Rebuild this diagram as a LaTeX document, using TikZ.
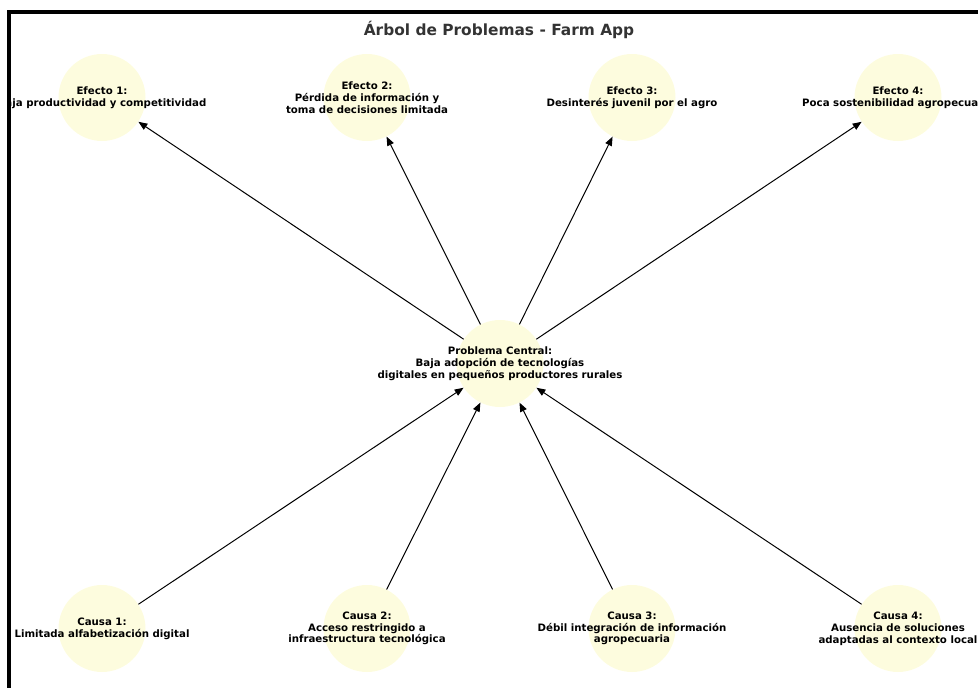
\documentclass[tikz,border=0pt]{standalone}
\usepackage{fontspec}
\setmainfont{DejaVu Sans}
\usetikzlibrary{arrows.meta}
\definecolor{amarillo}{RGB}{253,252,222}
\definecolor{gristitulo}{RGB}{51,51,51}
\tikzset{
  nodo/.style={circle, fill=amarillo, minimum size=87pt, inner sep=0pt},
  texto/.style={align=center, font=\bfseries\fontsize{10.2}{11.8}\selectfont, inner sep=0pt},
  flecha/.style={-{Triangle[length=9pt,width=7pt]}, line width=1pt},
}
\begin{document}
\begin{tikzpicture}[x=1pt,y=-1pt]
                \useasboundingbox (0,0) rectangle (978,688);
                \clip (0,0) rectangle (978,688);
                % 枠の描画
                \draw[line width=4pt] (9.3,12) rectangle (1000,710);

                \begin{scope}
                \clip (11.3,14) rectangle (978,688);

                % タイトル
                \node[anchor=base, font=\bfseries\fontsize{15.4}{18}\selectfont, text=gristitulo] (titulo) at (499,35) {Árbol de Problemas - Farm App};

                % 円
                \node[nodo] (efecto1) at (102,97.5) {};
                \node[nodo] (efecto2) at (367,97.5) {};
                \node[nodo] (efecto3) at (632,97.5) {};
                \node[nodo] (efecto4) at (898,97.5) {};
                \node[nodo] (central) at (500,363.5) {};
                \node[nodo] (causa1) at (102,628.5) {};
                \node[nodo] (causa2) at (367,628.5) {};
                \node[nodo] (causa3) at (632,628.5) {};
                \node[nodo] (causa4) at (898,628.5) {};

                % 矢印
                \draw[flecha] (central) -- (efecto1);
                \draw[flecha] (central) -- (efecto2);
                \draw[flecha] (central) -- (efecto3);
                \draw[flecha] (central) -- (efecto4);
                \draw[flecha] (causa1) -- (central);
                \draw[flecha] (causa2) -- (central);
                \draw[flecha] (causa3) -- (central);
                \draw[flecha] (causa4) -- (central);

                % ラベル
                \node[texto] (tefecto1) at (efecto1) {Efecto 1:\\Baja productividad y competitividad};
                \node[texto] (tefecto2) at (efecto2) {Efecto 2:\\Pérdida de información y\\toma de decisiones limitada};
                \node[texto] (tefecto3) at (efecto3) {Efecto 3:\\Desinterés juvenil por el agro};
                \node[texto] (tefecto4) at (efecto4) {Efecto 4:\\Poca sostenibilidad agropecuaria};
                \node[texto] (tcentral) at (central) {Problema Central:\\Baja adopción de tecnologías\\digitales en pequeños productores rurales};
                \node[texto] (tcausa1) at (causa1) {Causa 1:\\Limitada alfabetización digital};
                \node[texto] (tcausa2) at (causa2) {Causa 2:\\Acceso restringido a\\infraestructura tecnológica};
                \node[texto] (tcausa3) at (causa3) {Causa 3:\\Débil integración de información\\agropecuaria};
                \node[texto] (tcausa4) at (causa4) {Causa 4:\\Ausencia de soluciones\\adaptadas al contexto local};
                \end{scope}
\end{tikzpicture}
\end{document}
